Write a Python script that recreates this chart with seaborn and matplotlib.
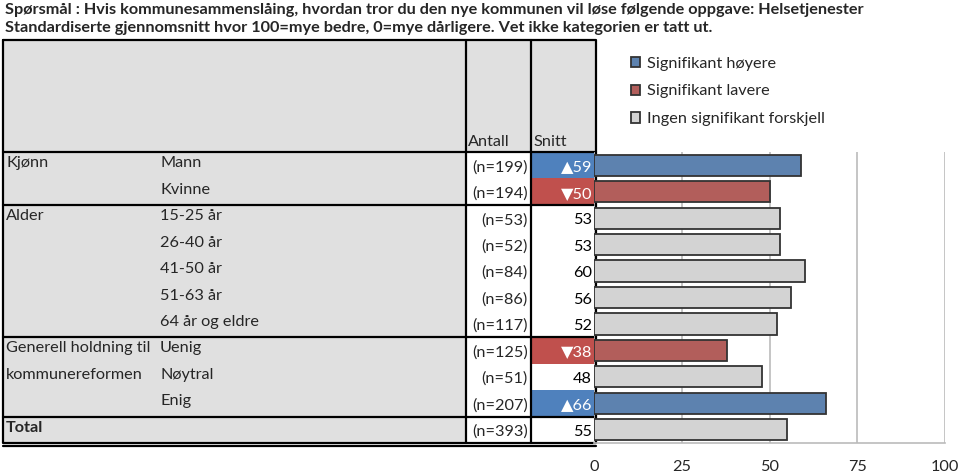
import pandas as pd
import numpy as np
import matplotlib.pyplot as plt
import matplotlib.patches as mpatches
import seaborn as sns

# Data
gruppe = ["Kjønn", "", "Alder", "", "", "", "", "Generell holdning til", "kommunereformen", "", "Total"]
rader = ["Mann", "Kvinne", "15-25 år", "26-40 år", "41-50 år", "51-63 år", "64 år og eldre",
         "Uenig", "Nøytral", "Enig", "Total"]
antall = [199, 194, 53, 52, 84, 86, 117, 125, 51, 207, 393]
snitt = [59, 50, 53, 53, 60, 56, 52, 38, 48, 66, 55]
signif = ["Signifikant høyere", "Signifikant lavere", "Ingen signifikant forskjell",
          "Ingen signifikant forskjell", "Ingen signifikant forskjell", "Ingen signifikant forskjell",
          "Ingen signifikant forskjell", "Signifikant lavere", "Ingen signifikant forskjell",
          "Signifikant høyere", "Ingen signifikant forskjell"]
gruppe_skille = [2, 7, 10]
x_ticks = [0, 25, 50, 75, 100]

farger = {"Signifikant høyere": "#4F81BD",
          "Signifikant lavere": "#C0504D",
          "Ingen signifikant forskjell": "#D3D3D3"}
piler = {"Signifikant høyere": "▲", "Signifikant lavere": "▼", "Ingen signifikant forskjell": ""}

sns.set_style("white")
plt.rcParams['font.family'] = ['Lato', 'DejaVu Sans']

df = pd.DataFrame({"rad": rader, "snitt": snitt, "signif": signif})

W, H = 960, 472
fig = plt.figure(figsize=(W / 100, H / 100), dpi=100)

# table drawn in pixel coordinates on a full-figure axes
bg = fig.add_axes([0, 0, 1, 1])
bg.set_xlim(0, W)
bg.set_ylim(H, 0)
bg.axis('off')

top, bunn = 152, 443
rh = (bunn - top) / len(rader)
x_l, x_a, x_s, x_r = 3, 466, 531, 596
fs = 11.7

bg.add_patch(mpatches.Rectangle((x_l, 40), x_a - x_l, bunn - 40, facecolor="#E0E0E0", edgecolor="none"))
bg.add_patch(mpatches.Rectangle((x_a, 40), x_r - x_a, top - 40, facecolor="#E0E0E0", edgecolor="none"))
for i, s in enumerate(signif):
    if s != "Ingen signifikant forskjell":
        bg.add_patch(mpatches.Rectangle((x_s, top + i * rh), x_r - x_s, rh, facecolor=farger[s], edgecolor="none"))

lw = 1.6
bg.plot([x_l, x_r, x_r, x_l, x_l], [40, 40, bunn, bunn, 40], color="black", lw=lw)
for x in [x_a, x_s]:
    bg.plot([x, x], [40, bunn], color="black", lw=lw)
bg.plot([x_l, x_r], [top, top], color="black", lw=lw)
for g in gruppe_skille:
    bg.plot([x_l, x_r], [top + g * rh, top + g * rh], color="black", lw=lw)
bg.plot([x_l, x_r], [bunn + 3, bunn + 3], color="black", lw=lw)

bg.text(x_a + 2, top - 3, "Antall", fontsize=fs, va="bottom", ha="left")
bg.text(x_s + 2, top - 3, "Snitt", fontsize=fs, va="bottom", ha="left")

for i in range(len(rader)):
    yc = top + (i + 0.5) * rh
    if gruppe[i]:
        bg.text(x_l + 3, yc - 2, gruppe[i], fontsize=fs, va="center", ha="left",
                fontweight="bold" if gruppe[i] == "Total" else "normal")
    if rader[i] != "Total":
        bg.text(160, yc - 2, rader[i], fontsize=fs, va="center", ha="left")
    bg.text(x_s - 3, yc + 2, f"(n={antall[i]})", fontsize=fs, va="center", ha="right")
    hvit = signif[i] != "Ingen signifikant forskjell"
    bg.text(x_r - 4, yc + 2, f"{piler[signif[i]]}{snitt[i]}", fontsize=fs, va="center", ha="right",
            color="white" if hvit else "black")

bg.text(5, 10, "Spørsmål : Hvis kommunesammenslåing, hvordan tror du den nye kommunen vil løse følgende oppgave: Helsetjenester",
        fontsize=fs, fontweight="bold", va="center", ha="left")
bg.text(5, 28, "Standardiserte gjennomsnitt hvor 100=mye bedre, 0=mye dårligere. Vet ikke kategorien er tatt ut.",
        fontsize=fs, fontweight="bold", va="center", ha="left")

# bar chart
x0, x1 = 594, 945
ax = fig.add_axes([x0 / W, 1 - bunn / H, (x1 - x0) / W, (bunn - top) / H])
ax.patch.set_alpha(0)
sns.barplot(data=df, x="snitt", y="rad", hue="signif", hue_order=list(farger.keys()),
            palette=farger, dodge=False, width=0.8, edgecolor="#333333", linewidth=1.3,
            orient="h", ax=ax)
ax.set_xlim(0, 100)
ax.set_xticks(x_ticks)
ax.set_xticklabels([str(t) for t in x_ticks], fontsize=fs)
ax.set_yticks([])
ax.set_xlabel("")
ax.set_ylabel("")
ax.grid(axis="x", color="#BBBBBB", lw=1.2)
ax.set_axisbelow(True)
for side in ["top", "right", "left"]:
    ax.spines[side].set_visible(False)
ax.spines["bottom"].set_color("#BBBBBB")
ax.spines["bottom"].set_linewidth(1.2)
ax.tick_params(axis="x", length=0, pad=12)

handles, labels = ax.get_legend_handles_labels()
ax.legend(handles, labels, loc="upper left", bbox_to_anchor=(616 / W, 1 - 42 / H),
          bbox_transform=fig.transFigure, frameon=False, fontsize=fs,
          handlelength=0.6, handleheight=0.6, handletextpad=0.4, labelspacing=0.85)

plt.savefig("out.png", dpi=100)
